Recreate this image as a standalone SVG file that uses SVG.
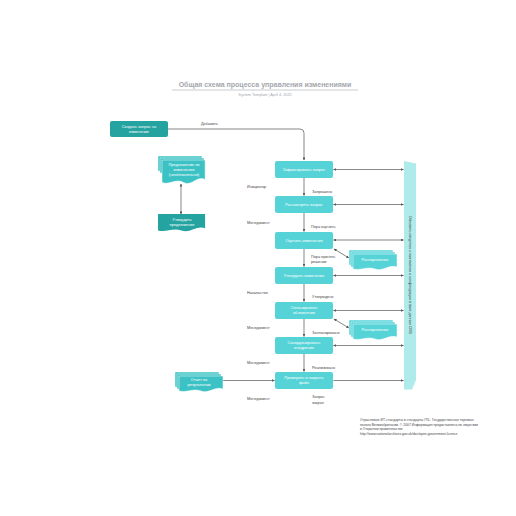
<svg xmlns="http://www.w3.org/2000/svg" width="516" height="516" viewBox="0 0 516 516">
<defs>
<style>
text{font-family:"Liberation Sans","Open Sans",Arial,sans-serif}
.t{fill:#fff;font-size:4px;text-anchor:middle}
.l{fill:#444;font-size:3.8px}
.main{fill:#55d3d7}
.dark{fill:#24a3a1}
.con{stroke:#555;stroke-width:0.7;fill:none}
</style>
<marker id="ah" viewBox="0 0 6 6" refX="5.5" refY="3" markerWidth="4" markerHeight="4" orient="auto-start-reverse"><path d="M0,0 L6,3 L0,6 Z" fill="#555"/></marker>
<path id="doc" d="M0,0 H44 V13 C36,10 30,18 22,15 C14,12 8,17 0,15 Z"/>
</defs>
<rect width="516" height="516" fill="#fff"/>
<g id="title">
<text x="265" y="87" font-size="7" font-weight="bold" fill="#a3a7ad" text-anchor="middle">Общая схема процесса управления изменениями</text>
<line x1="172" y1="90" x2="358" y2="90" stroke="#a3a7ad" stroke-width="0.6"/>
<text x="265" y="96" font-size="3.8" fill="#a3a7ad" text-anchor="middle">System Template  |  April 4, 2025</text>
</g>
<g id="connectors">
<path class="con" d="M168,129 H300 Q304,129 304,133 V160" marker-end="url(#ah)"/>
<line class="con" x1="181" y1="184" x2="181" y2="214" marker-start="url(#ah)" marker-end="url(#ah)"/>
<line class="con" x1="304" y1="178" x2="304" y2="195.5" marker-end="url(#ah)"/>
<line class="con" x1="304" y1="213" x2="304" y2="231.5" marker-end="url(#ah)"/>
<line class="con" x1="304" y1="249" x2="304" y2="266.5" marker-end="url(#ah)"/>
<line class="con" x1="304" y1="284" x2="304" y2="301.5" marker-end="url(#ah)"/>
<line class="con" x1="304" y1="319" x2="304" y2="336.5" marker-end="url(#ah)"/>
<line class="con" x1="304" y1="354" x2="304" y2="371.5" marker-end="url(#ah)"/>
<line class="con" x1="333.5" y1="169.5" x2="403.5" y2="169.5" marker-start="url(#ah)" marker-end="url(#ah)"/>
<line class="con" x1="333.5" y1="204.5" x2="403.5" y2="204.5" marker-start="url(#ah)" marker-end="url(#ah)"/>
<line class="con" x1="333.5" y1="240" x2="403.5" y2="240" marker-start="url(#ah)" marker-end="url(#ah)"/>
<line class="con" x1="333.5" y1="275.5" x2="403.5" y2="275.5" marker-start="url(#ah)" marker-end="url(#ah)"/>
<line class="con" x1="333.5" y1="310.5" x2="403.5" y2="310.5" marker-start="url(#ah)" marker-end="url(#ah)"/>
<line class="con" x1="333.5" y1="345.5" x2="403.5" y2="345.5" marker-start="url(#ah)" marker-end="url(#ah)"/>
<line class="con" x1="333.5" y1="380.5" x2="403.5" y2="380.5" marker-end="url(#ah)"/>
<line class="con" x1="334" y1="249" x2="349" y2="258" marker-start="url(#ah)" marker-end="url(#ah)"/>
<line class="con" x1="334" y1="319" x2="349" y2="328" marker-start="url(#ah)" marker-end="url(#ah)"/>
<line class="con" x1="219" y1="380.5" x2="274.5" y2="380.5" marker-end="url(#ah)"/>
<text class="l" x="201" y="125">Добавить</text>
<text class="l" x="312" y="193">Запрошено</text>
<text class="l" x="311" y="228">Пора оценить</text>
<text class="l" x="311" y="258">Пора принять</text>
<text class="l" x="311" y="263">решение</text>
<text class="l" x="312" y="298">Утверждено</text>
<text class="l" x="312" y="334">Запланировано</text>
<text class="l" x="312" y="369">Реализовано</text>
<text class="l" x="312" y="398">Запрос</text>
<text class="l" x="312" y="404">закрыт</text>
<text class="l" x="247" y="188">Инициатор</text>
<text class="l" x="247" y="224">Менеджмент</text>
<text class="l" x="247" y="294">Начальство</text>
<text class="l" x="247" y="329">Менеджмент</text>
<text class="l" x="247" y="364">Менеджмент</text>
<text class="l" x="247" y="400">Менеджмент</text>
</g>
<g id="create"><rect class="dark" x="110" y="121" width="58" height="16" rx="2"/><text class="t" x="139" y="128">Создать запрос на</text><text class="t" x="139" y="133">изменение</text></g>
<g id="proposal">
<use href="#doc" x="158" y="156" fill="#3cc2c4" stroke="#fff" stroke-width="0.5" transform="translate(0,0)"/>
<use href="#doc" x="160" y="158" fill="#3cc2c4" stroke="#fff" stroke-width="0.5"/>
<g transform="translate(162,160) scale(0.98,1.5)"><use href="#doc" fill="#3cc2c4" stroke="#fff" stroke-width="0.4"/></g>
<text class="t" x="184" y="166">Предложение по</text><text class="t" x="184" y="171">изменению</text><text class="t" x="184" y="176">(необязательно)</text>
</g>
<g id="approve-proposal"><g transform="translate(158,214) scale(1.07,1.1)"><use href="#doc" class="dark" fill="#2bb3b2"/></g><text class="t" x="182" y="221">Утвердить</text><text class="t" x="182" y="226">предложение</text></g>
<g id="n1"><rect class="main" x="275" y="161" width="58" height="17" rx="2"/><text class="t" x="304" y="171">Зафиксировать запрос</text></g>
<g id="n2"><rect class="main" x="275" y="196" width="58" height="17" rx="2"/><text class="t" x="304" y="206">Рассмотреть запрос</text></g>
<g id="n3"><rect class="main" x="275" y="232" width="58" height="17" rx="2"/><text class="t" x="304" y="242">Оценить изменения</text></g>
<g id="n4"><rect class="main" x="275" y="267" width="58" height="17" rx="2"/><text class="t" x="304" y="277">Утвердить изменения</text></g>
<g id="n5"><rect class="main" x="275" y="302" width="58" height="17" rx="2"/><text class="t" x="304" y="309">Спланировать</text><text class="t" x="304" y="314">обновление</text></g>
<g id="n6"><rect class="main" x="275" y="337" width="58" height="17" rx="2"/><text class="t" x="304" y="344">Скоординировать</text><text class="t" x="304" y="349">внедрение</text></g>
<g id="n7"><rect class="main" x="275" y="372" width="58" height="17" rx="2"/><text class="t" x="304" y="379">Проверить и закрыть</text><text class="t" x="304" y="384">файл</text></g>
<g id="order1">
<use href="#doc" x="349" y="250" fill="#55d3d7" stroke="#fff" stroke-width="0.5"/>
<use href="#doc" x="351" y="252" fill="#55d3d7" stroke="#fff" stroke-width="0.5"/>
<use href="#doc" x="353" y="254" fill="#55d3d7" stroke="#fff" stroke-width="0.5"/>
<text class="t" x="375" y="261">Распоряжение</text>
</g>
<g id="order2">
<use href="#doc" x="349" y="320" fill="#55d3d7" stroke="#fff" stroke-width="0.5"/>
<use href="#doc" x="351" y="322" fill="#55d3d7" stroke="#fff" stroke-width="0.5"/>
<use href="#doc" x="353" y="324" fill="#55d3d7" stroke="#fff" stroke-width="0.5"/>
<text class="t" x="375" y="331">Распоряжение</text>
</g>
<g id="report">
<use href="#doc" x="175" y="372" fill="#3cc2c4" stroke="#fff" stroke-width="0.5"/>
<use href="#doc" x="177" y="374" fill="#3cc2c4" stroke="#fff" stroke-width="0.5"/>
<use href="#doc" x="179" y="376" fill="#3cc2c4" stroke="#fff" stroke-width="0.5" transform="translate(0,0)"/>
<text class="t" x="199" y="381">Отчет по</text><text class="t" x="199" y="386">результатам</text>
</g>
<g id="cms"><path d="M404,161 L416,163.5 V380 L412,389.5 H404 Z" fill="#b0ebeb"/>
<text transform="translate(408.5,275) rotate(90)" fill="#333" font-size="3.6" text-anchor="middle">Обновить сведения о назначении и конфигурации в базе данных CMS</text></g>
<g id="footer" font-size="3.4" fill="#444">
<text x="360" y="421">Отраслевые ИТ-стандарты и стандарты ITIL. Государственная торговая</text>
<text x="360" y="425.5">палата Великобритании. © 2007 Информация предоставлена по лицензии</text>
<text x="360" y="430">в Открытом правительстве</text>
<text x="360" y="434.5">http://www.nationalarchives.gov.uk/doc/open-government-licence</text>
</g>
</svg>
